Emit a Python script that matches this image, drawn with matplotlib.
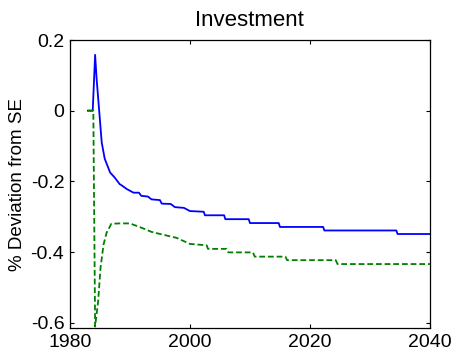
import matplotlib
matplotlib.use("Agg")
import matplotlib.pyplot as plt

plt.rcParams['font.family'] = ['Liberation Sans', 'DejaVu Sans']
plt.rcParams['axes.unicode_minus'] = False

# deviation paths, years and % deviation from steady state
blue_years = [1983.0, 1983.8, 1984.2, 1984.45, 1984.9, 1985.3, 1985.8, 1986.7, 1987.5,
              1988.3, 1988.6, 1989.5, 1990.6, 1991.5, 1991.9, 1993.0, 1993.6, 1995.0,
              1995.3, 1996.8, 1997.5, 1999.0, 2000.0, 2002.3, 2002.5, 2005.7, 2005.9,
              2009.8, 2010.0, 2014.8, 2015.0, 2022.2, 2022.4, 2034.4, 2034.6, 2040.0]
blue_vals = [0.0, 0.0, 0.158, 0.09, -0.005, -0.09, -0.136, -0.175, -0.19,
             -0.208, -0.211, -0.222, -0.232, -0.232, -0.241, -0.243, -0.251, -0.253,
             -0.263, -0.264, -0.273, -0.275, -0.284, -0.286, -0.296, -0.296, -0.307,
             -0.307, -0.318, -0.318, -0.329, -0.329, -0.339, -0.339, -0.349, -0.349]

green_years = [1983.0, 1983.9, 1984.2, 1984.7, 1985.1, 1985.6, 1986.1, 1986.9, 1988.3,
               1990.0, 1991.9, 1993.6, 1995.3, 1997.8, 2000.0, 2002.8, 2003.0, 2006.1,
               2006.4, 2010.5, 2010.8, 2015.9, 2016.2, 2024.3, 2024.6, 2040.0]
green_vals = [0.0, 0.0, -0.611, -0.54, -0.445, -0.379, -0.346, -0.32, -0.319,
              -0.319, -0.331, -0.343, -0.35, -0.36, -0.377, -0.381, -0.391, -0.391,
              -0.401, -0.401, -0.413, -0.413, -0.423, -0.423, -0.434, -0.434]

fig = plt.figure(figsize=(4.54, 3.54), dpi=100)
ax = fig.add_axes([0.154, 0.0734, 0.793, 0.8136])

ax.plot(blue_years, blue_vals, color=(0, 0, 1), linewidth=1.3)
ax.plot(green_years, green_vals, color=(0, 0.5, 0), linewidth=1.3, linestyle='--',
        dashes=(3.2, 1.6))

ax.set_xlim(1980, 2040)
ax.set_ylim(-0.615, 0.2)
ax.set_xticks([1980, 2000, 2020, 2040])
ax.set_yticks([0.2, 0, -0.2, -0.4, -0.6])
ax.set_yticklabels(['0.2', '0', '-0.2', '-0.4', '-0.6'])
ax.tick_params(direction='in', top=True, right=True, length=3, width=0.8,
               labelsize=14, pad=4)
for s in ax.spines.values():
    s.set_linewidth(0.9)

ax.set_title('Investment', fontsize=16, pad=10)
ax.set_ylabel('% Deviation from SE', fontsize=13.5, labelpad=3)

fig.savefig('out.png', dpi=100)
